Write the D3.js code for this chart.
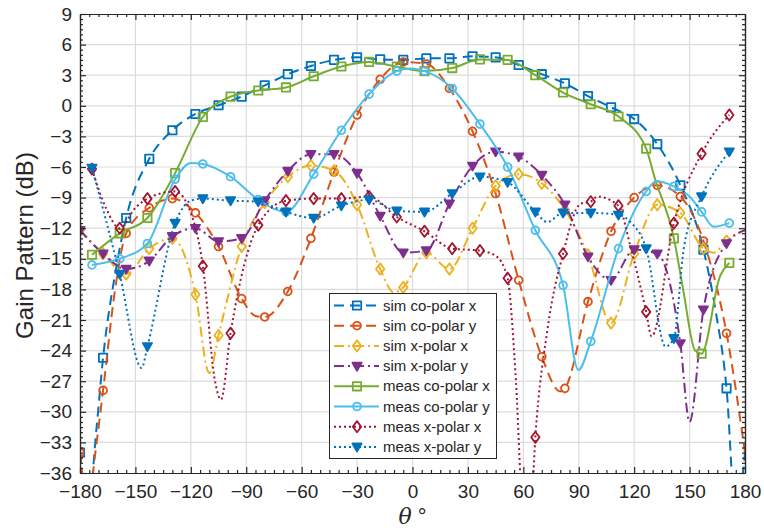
<!DOCTYPE html>
<html><head><meta charset="utf-8">
<script src="https://cdn.jsdelivr.net/npm/d3@7/dist/d3.min.js"></script>
<style>body{margin:0;background:#fff}svg text{font-family:"Liberation Sans",Arial,Helvetica,sans-serif}</style>
</head><body>
<svg id="c" width="764" height="531"></svg>
<script>
// ---------- data ----------
const xTicks = [-180,-150,-120,-90,-60,-30,0,30,60,90,120,150,180];
const yTicks = [9,6,3,0,-3,-6,-9,-12,-15,-18,-21,-24,-27,-30,-33,-36];
const seriesNames = ["sim co-polar x","sim co-polar y","sim x-polar x","sim x-polar y",
                     "meas co-polar x","meas co-polar y","meas x-polar x","meas x-polar y"];
// angles where markers sit (simulated / measured grids)
const simMarkTheta = [-180,-167.5,-155,-142.5,-130,-117.5,-105,-92.5,-80,-67.5,-55,-42.5,-30,-17.5,-5,
                      7.5,20,32.5,45,57.5,70,82.5,95,107.5,120,132.5,145,157.5,170];
const measMarkTheta = [-173.5,-158.5,-143.5,-128.5,-113.5,-98.5,-83.5,-68.5,-53.5,-38.5,-23.5,-8.5,
                       6.5,21.5,36.5,51.5,66.5,81.5,96.5,111.5,126.5,141.5,156.5,171.5];

const simCoX = [[-180,-34],[-176,-40],[-171,-31.5],[-167.5,-24.7],[-161,-16.5],[-155,-11],[-142.5,-5.2],
  [-130,-2.4],[-117.5,-0.8],[-105,0.05],[-92.5,0.9],[-80,2.0],[-67.5,3.1],[-55,3.9],[-42.5,4.5],[-30,4.75],
  [-17.5,4.55],[-5,4.5],[7.5,4.65],[20,4.65],[32.5,4.85],[45,4.75],[57.5,4.0],[70,3.1],[82.5,2.2],[95,0.95],
  [107.5,-0.15],[120,-1.3],[132.5,-3.75],[145,-7.8],[157.5,-14.1],[164,-20],[170,-27.7],[175,-40],[180,-34]];
const simCoY = [[-180,-34],[-176,-39],[-171,-33],[-167.5,-27.9],[-161,-18],[-155,-12.5],[-142.5,-10],
  [-130,-9.1],[-117.5,-10.5],[-105,-13.8],[-92.5,-18.9],[-85,-20.6],[-80,-20.7],[-67.5,-18.2],[-55,-13.0],
  [-42.5,-6.5],[-30,-0.9],[-17.5,2.6],[-5,4.3],[7.5,4.1],[20,1.7],[32.5,-2.5],[45,-8.6],[57.5,-17.1],
  [70,-24.6],[80,-28],[82.5,-27.7],[95,-19.2],[107.5,-12.3],[120,-9.0],[132.5,-7.8],[145,-8.9],
  [157.5,-13.25],[170,-22.3],[180,-34]];
const simXX = [[-180,-12.2],[-167.5,-14.5],[-155,-16.5],[-142.5,-14.0],[-130,-13.0],[-117.5,-18.5],
  [-110,-26.2],[-105,-22.5],[-92.5,-13.8],[-80,-9.5],[-67.5,-6.95],[-55,-5.85],[-42.5,-6.35],[-30,-9.7],
  [-17.5,-16],[-10,-18.3],[-5,-17.8],[7.5,-14.4],[20,-16.0],[32.5,-12.0],[45,-7.85],[57.5,-6.7],[70,-7.6],
  [82.5,-10.2],[95,-14.6],[107.5,-21.3],[120,-14.5],[132.5,-9.7],[145,-10.5],[157.5,-14.0],[163,-14.4],
  [170,-13.25],[180,-12.2]];
const simXY = [[-180,-12.2],[-167.5,-14.5],[-155,-16.0],[-142.5,-15.2],[-130,-12.8],[-117.5,-12.0],
  [-105,-13.3],[-92.5,-13.0],[-80,-9.3],[-67.5,-6.4],[-55,-4.75],[-42.5,-4.75],[-30,-6.6],[-17.5,-10.8],
  [-5,-14.4],[7.5,-14.2],[20,-9.6],[32.5,-5.9],[45,-4.5],[57.5,-5.0],[70,-6.8],[82.5,-9.7],[95,-14.8],
  [107.5,-17.1],[120,-14.1],[132.5,-14.5],[145,-23.3],[150,-31],[157.5,-20.0],[170,-13.5],[180,-12.2]];
const measCoX = [[-173.5,-14.6],[-158.5,-12.5],[-143.5,-11],[-128.5,-6.6],[-113.5,-1.1],[-98.5,0.9],
  [-83.5,1.5],[-68.5,1.8],[-53.5,2.9],[-38.5,3.85],[-23.5,4.3],[-8.5,3.85],[6.5,3.4],[21.5,3.7],
  [36.5,4.55],[51.5,4.5],[66.5,3.0],[81.5,1.3],[96.5,0.15],[111.5,-1.05],[126.5,-4.2],[131,-7],
  [141.5,-13.0],[146.5,-18],[153,-24],[156.5,-24.3],[166.5,-16.7],[171.5,-15.4]];
const measCoY = [[-173.5,-15.6],[-158.5,-15],[-143.5,-13.5],[-128.5,-7.2],[-120,-5.6],[-113.5,-5.7],
  [-98.5,-6.95],[-83.5,-9.2],[-75,-10.1],[-68.5,-10.4],[-53.5,-6.7],[-38.5,-2.4],[-23.5,1.15],[-8.5,3.4],
  [-1,3.65],[6.5,3.4],[21.5,1.7],[36.5,-1.8],[51.5,-6.0],[66.5,-12.2],[81.5,-17.6],[89.8,-25.9],
  [96.5,-23.1],[111.5,-14.0],[126.5,-8.4],[132,-7.4],[141.5,-7.9],[150,-8.9],[156.5,-10.4],[163,-11.85],
  [171.5,-11.5]];
const measXX = [[-173.5,-6.2],[-166,-10],[-158.5,-12],[-150,-10],[-143.5,-9.1],[-128.5,-8.4],[-120,-10.5],
  [-113.5,-15.7],[-107,-26.9],[-103.7,-28.8],[-98.5,-22.3],[-83.5,-11.7],[-68.5,-9.3],[-53.5,-9.1],
  [-38.5,-9.1],[-23.5,-8.9],[-8.5,-10.9],[6.5,-12.3],[21.5,-14.0],[36.5,-14.2],[45,-14.7],[51.5,-16.9],
  [56,-27],[60,-40],[64,-40],[66.5,-32.5],[73,-22],[81.5,-14.5],[91,-9.6],[96.5,-9.4],[100,-8.9],
  [111.5,-9.8],[118,-13.8],[126.5,-20.2],[129.4,-22.6],[141.5,-11.5],[156.5,-4.7],[171.5,-0.9]];
const measXY = [[-173.5,-6.1],[-158.5,-16.5],[-146.6,-25.7],[-143.5,-23.6],[-128.5,-11.5],[-120,-9.3],
  [-113.5,-9.1],[-98.5,-9.3],[-83.5,-9.4],[-68.5,-10.4],[-53.5,-11.0],[-38.5,-9.8],[-23.5,-9.2],
  [-8.5,-10.3],[6.5,-10.4],[21.5,-8.6],[36.5,-6.95],[51.5,-7.5],[66.5,-10.4],[73,-11.4],[81.5,-10.5],
  [96.5,-10.5],[111.5,-10.7],[118,-11.4],[126.5,-14.0],[137,-23.6],[141.5,-22.8],[147,-13.8],
  [156.5,-8.9],[171.5,-4.5]];

// ---------- styles ----------
const styles = [
  {data:simCoX,  marks:simMarkTheta,  color:"#0072BD", dash:"10,6",      sym:"square"},
  {data:simCoY,  marks:simMarkTheta,  color:"#D95319", dash:"10,6",      sym:"circle"},
  {data:simXX,   marks:simMarkTheta,  color:"#EDB120", dash:"10,4,2,4",  sym:"diamond"},
  {data:simXY,   marks:simMarkTheta,  color:"#7E2F8E", dash:"10,4,2,4",  sym:"tri"},
  {data:measCoX, marks:measMarkTheta, color:"#77AC30", dash:null,        sym:"square"},
  {data:measCoY, marks:measMarkTheta, color:"#4DBEEE", dash:null,        sym:"circle"},
  {data:measXX,  marks:measMarkTheta, color:"#A2142F", dash:"2,3",       sym:"diamond"},
  {data:measXY,  marks:measMarkTheta, color:"#0072BD", dash:"2,3",       sym:"tri"}
];

const svg = d3.select("#c");
const L=80, R=745, T=14, B=473;
const x = d3.scaleLinear().domain([-180,180]).range([L,R]);
const y = d3.scaleLinear().domain([-36,9]).range([B,T]);
const axisColor = "#262626";

// grid
const grid = svg.append("g");
grid.selectAll("line.gx").data(xTicks.slice(1,-1)).enter().append("line")
  .attr("x1",d=>x(d)).attr("x2",d=>x(d)).attr("y1",T).attr("y2",B)
  .attr("stroke","#dcdcdc").attr("stroke-width",1.2);
grid.selectAll("line.gy").data(yTicks.slice(1,-1)).enter().append("line")
  .attr("y1",d=>y(d)).attr("y2",d=>y(d)).attr("x1",L).attr("x2",R)
  .attr("stroke","#dcdcdc").attr("stroke-width",1.2);

// clip
svg.append("clipPath").attr("id","clip").append("rect")
  .attr("x",L).attr("y",T).attr("width",R-L).attr("height",B-T);

const line = d3.line().x(d=>x(d[0])).y(d=>y(d[1])).curve(d3.curveMonotoneX);
function symPath(sym){
  if(sym==="square") return d3.symbol(d3.symbolSquare,70)();
  if(sym==="circle") return d3.symbol(d3.symbolCircle,48)();
  if(sym==="diamond") return "M0,-5.6L4.2,0L0,5.6L-4.2,0Z";
  return "M-4.6,-3.4L4.6,-3.4L0,4.6Z";
}
const plot = svg.append("g").attr("clip-path","url(#clip)");
styles.forEach(s=>{
  plot.append("path").attr("d",line(s.data)).attr("fill","none")
    .attr("stroke",s.color).attr("stroke-width",2)
    .attr("stroke-dasharray",s.dash);
  const pts = s.data.filter(d=>s.marks.includes(d[0]));
  plot.selectAll(null).data(pts).enter().append("path")
    .attr("d",symPath(s.sym))
    .attr("transform",d=>`translate(${x(d[0])},${y(d[1])})`)
    .attr("fill",s.sym==="tri"?s.color:"none").attr("stroke",s.color).attr("stroke-width",1.8)
    .attr("stroke-linejoin","round");
});

// axes
const fmt = d=> (d<0?"\u2212"+Math.abs(d):""+d);
function styleAxis(g){
  g.select(".domain").attr("stroke",axisColor).attr("stroke-width",1.2);
  g.selectAll(".tick line").attr("stroke",axisColor).attr("stroke-width",1.2);
  g.selectAll("text").attr("fill",axisColor).attr("font-size",19)
   .attr("font-family",'"Liberation Sans",Arial,Helvetica,sans-serif');
}
const xMinor = d3.range(-180,181,5).filter(v=>v%30!==0);
const yMinor = d3.range(-36,9.01,0.5).filter(v=>Math.abs(v%3)>1e-6);
svg.append("g").attr("transform",`translate(0,${B})`)
  .call(d3.axisBottom(x).tickValues(xMinor).tickSize(-3).tickFormat("").tickSizeOuter(0)).call(styleAxis);
svg.append("g").attr("transform",`translate(0,${T})`)
  .call(d3.axisTop(x).tickValues(xMinor).tickSize(-3).tickFormat("").tickSizeOuter(0)).call(styleAxis);
svg.append("g").attr("transform",`translate(${L},0)`)
  .call(d3.axisLeft(y).tickValues(yMinor).tickSize(-3).tickFormat("").tickSizeOuter(0)).call(styleAxis);
svg.append("g").attr("transform",`translate(${R},0)`)
  .call(d3.axisRight(y).tickValues(yMinor).tickSize(-3).tickFormat("").tickSizeOuter(0)).call(styleAxis);

svg.append("g").attr("transform",`translate(0,${B})`)
  .call(d3.axisBottom(x).tickValues(xTicks).tickSize(-6).tickPadding(12).tickFormat(fmt).tickSizeOuter(0)).call(styleAxis);
svg.append("g").attr("transform",`translate(0,${T})`)
  .call(d3.axisTop(x).tickValues(xTicks).tickSize(-6).tickFormat("").tickSizeOuter(0)).call(styleAxis);
svg.append("g").attr("transform",`translate(${L},0)`)
  .call(d3.axisLeft(y).tickValues(yTicks).tickSize(-6).tickPadding(8).tickFormat(fmt).tickSizeOuter(0)).call(styleAxis);
svg.append("g").attr("transform",`translate(${R},0)`)
  .call(d3.axisRight(y).tickValues(yTicks).tickSize(-6).tickFormat("").tickSizeOuter(0)).call(styleAxis);

// axis labels
svg.append("text").attr("transform",`translate(33,${(T+B)/2+2}) rotate(-90)`)
  .attr("text-anchor","middle").attr("font-size",24).attr("fill",axisColor).text("Gain Pattern (dB)");
const xl = svg.append("text").attr("x",(L+R)/2).attr("y",524).attr("text-anchor","middle")
  .attr("font-size",22).attr("fill",axisColor);
xl.append("tspan").attr("font-style","italic").attr("font-family",'"DejaVu Serif","Liberation Serif",serif').text("\u03b8");
xl.append("tspan").text(" \u00b0");

// legend
const lg = svg.append("g");
lg.append("rect").attr("x",329.5).attr("y",293.5).attr("width",167).attr("height",165)
  .attr("fill","#fff").attr("stroke",axisColor).attr("stroke-width",1);
styles.forEach((s,i)=>{
  const cy = 305.5 + i*20.2;
  lg.append("line").attr("x1",334).attr("x2",379).attr("y1",cy).attr("y2",cy)
    .attr("stroke",s.color).attr("stroke-width",2).attr("stroke-dasharray",s.dash);
  lg.append("path").attr("d",symPath(s.sym)).attr("transform",`translate(357,${cy})`)
    .attr("fill",s.sym==="tri"?s.color:"none").attr("stroke",s.color).attr("stroke-width",1.8)
    .attr("stroke-linejoin","round");
  lg.append("text").attr("x",383).attr("y",cy+5).attr("font-size",15).attr("fill",axisColor)
    .text(seriesNames[i]);
});
</script>
</body></html>
